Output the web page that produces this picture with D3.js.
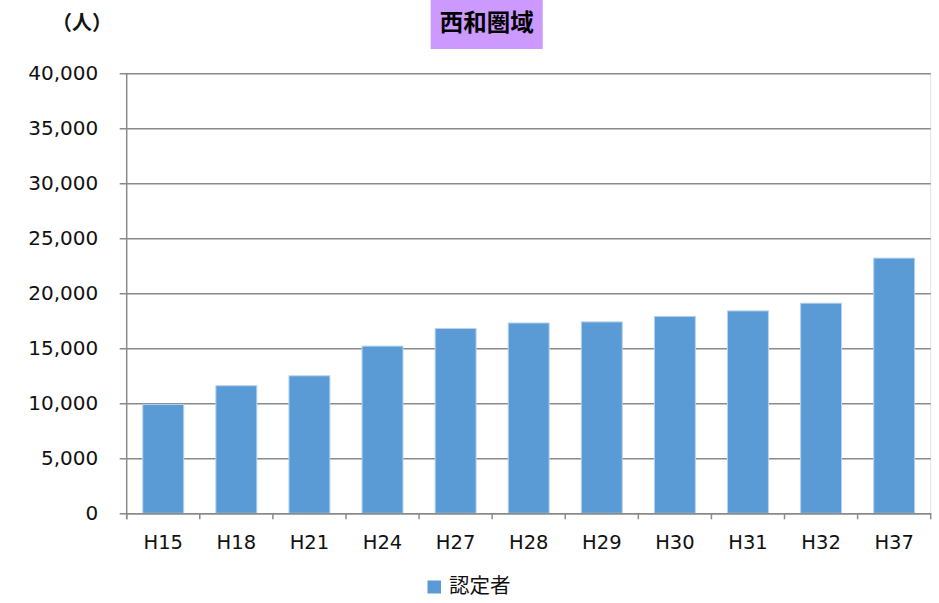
<!DOCTYPE html>
<html><head><meta charset="utf-8">
<script src="https://cdn.jsdelivr.net/npm/d3@7/dist/d3.min.js"></script>
<style>
html,body{margin:0;padding:0;background:#fff;}
svg{display:block;}
</style>
</head><body>
<svg id="chart" width="939" height="603"></svg>
<script>
const categories = ["H15","H18","H21","H24","H27","H28","H29","H30","H31","H32","H37"];
const values = [9900,11600,12500,15200,16800,17300,17400,17900,18400,19100,23200];
const yTicks = [0,5000,10000,15000,20000,25000,30000,35000,40000];
const seriesName = "認定者";
const titleText = "西和圏域";
const unitText = "（人）";

(function(){
const svg = d3.select("#chart");
const pL = 126.7, pR = 930.7, pT = 73.3, pB = 513.3;
const latin = "'DejaVu Sans', Verdana, sans-serif";
const cjk = "'Noto Sans CJK JP', sans-serif";

const x = d3.scaleBand().domain(categories).range([pL, pR]).paddingInner(0.44).paddingOuter(0.22);
const y = d3.scaleLinear().domain([0, 40000]).range([pB, pT]);

// plot area right border
svg.append("line").attr("x1", pR).attr("x2", pR).attr("y1", pT).attr("y2", pB)
  .attr("stroke", "#e3e3e3").attr("stroke-width", 1);

// gridlines + y axis
const yAxis = d3.axisLeft(y).tickValues(yTicks).tickFormat(d3.format(",")).tickSizeInner(-(pR - pL)).tickSizeOuter(0).tickPadding(0);
const gy = svg.append("g").attr("transform", `translate(${pL},0)`).call(yAxis);
gy.select(".domain").remove();
gy.selectAll(".tick line").attr("x1", -7).attr("stroke", "#8a8a8a").attr("stroke-width", 1.5);
gy.selectAll(".tick text").attr("x", -28.5).attr("font-family", latin).attr("font-size", 20).attr("fill", "#111");

// bars
svg.append("g").selectAll("rect").data(values).join("rect")
  .attr("x", (d, i) => x(categories[i]))
  .attr("y", d => y(d))
  .attr("width", x.bandwidth())
  .attr("height", d => y(0) - y(d))
  .attr("fill", "#5B9BD5")
  .attr("stroke", "#b7d2ec").attr("stroke-width", 1);

// y axis line
svg.append("line").attr("x1", pL).attr("x2", pL).attr("y1", pT).attr("y2", pB + 6)
  .attr("stroke", "#8a8a8a").attr("stroke-width", 1.5);

// x axis
const xAxis = d3.axisBottom(x).tickSize(0).tickPadding(22);
const gx = svg.append("g").attr("transform", `translate(0,${pB})`).call(xAxis);
gx.select(".domain").attr("stroke", "#8a8a8a").attr("stroke-width", 1.5);
gx.selectAll(".tick text").attr("font-family", latin).attr("font-size", 19.5).attr("fill", "#111");
// boundary ticks
const bounds = categories.map(c => x(c) - x.step() * x.paddingInner() / 2);
bounds.push(pR);
bounds[0] = pL;
svg.append("g").selectAll("line").data(bounds).join("line")
  .attr("x1", d => d).attr("x2", d => d).attr("y1", pB).attr("y2", pB + 6)
  .attr("stroke", "#8a8a8a").attr("stroke-width", 1.5);

// title box
const tb = svg.append("g");
tb.append("rect").attr("x", 430.7).attr("y", 0).attr("width", 112).attr("height", 49).attr("fill", "#CC99FF");
tb.append("text").attr("x", 486.7).attr("y", 21).attr("text-anchor", "middle").attr("dominant-baseline", "central")
  .attr("font-family", cjk).attr("font-weight", "bold").attr("font-size", 23.5).attr("fill", "#000").text(titleText);

// unit label
svg.append("text").attr("x", 52).attr("y", 21).attr("dominant-baseline", "central")
  .attr("font-family", cjk).attr("font-weight", "bold").attr("font-size", 20).attr("fill", "#111").text(unitText);

// legend
const lg = svg.append("g");
lg.append("rect").attr("x", 427.5).attr("y", 580.5).attr("width", 13.5).attr("height", 13).attr("fill", "#5B9BD5");
lg.append("text").attr("x", 449).attr("y", 583.5).attr("dominant-baseline", "central")
  .attr("font-family", cjk).attr("font-size", 20.5).attr("fill", "#111").text(seriesName);
})();
</script>
</body></html>
